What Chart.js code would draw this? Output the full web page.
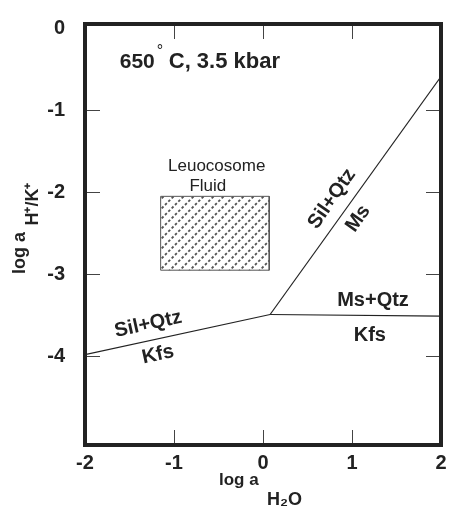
<!DOCTYPE html>
<html>
<head>
<meta charset="utf-8">
<script src="https://cdn.jsdelivr.net/npm/chart.js@4/dist/chart.umd.min.js"></script>
<style>
html,body{margin:0;padding:0;background:#fff;}
#wrap{width:449px;height:509px;}
</style>
</head>
<body>
<div id="wrap"><canvas id="c" width="449" height="509"></canvas></div>
<script>
// ---- data ----
const xTicks = [-2, -1, 0, 1, 2];
const yTicks = [0, -1, -2, -3, -4];
// Sil+Qtz / Kfs boundary
const kfsSilX = [-2, 0.08];
const kfsSilY = [-3.98, -3.49];
// Sil+Qtz / Ms boundary
const msSilX = [0.08, 2];
const msSilY = [-3.49, -0.59];
// Ms+Qtz / Kfs boundary
const kfsMsX = [0.08, 2];
const kfsMsY = [-3.49, -3.51];
// Leucosome fluid field (box)
const fluidX = [-1.15, 0.07, 0.07, -1.15, -1.15];
const fluidY = [-2.05, -2.05, -2.95, -2.95, -2.05];
// field labels [text, x, y, rotation(deg)]
const fieldLabels = [
  ['Sil+Qtz', -1.29, -3.61, -12.4],
  ['Kfs', -1.18, -3.98, -12.4],
  ['Sil+Qtz', 0.775, -2.08, -55],
  ['Ms', 1.07, -2.32, -55],
  ['Ms+Qtz', 1.236, -3.32, 0],
  ['Kfs', 1.20, -3.74, 0]
];

function pts(xs, ys){ return xs.map((x,i)=>({x:x, y:ys[i]})); }

function makeHatch(){
  const c = document.createElement('canvas');
  c.width = 10; c.height = 10;
  const g = c.getContext('2d');
  g.strokeStyle = '#555';
  g.lineWidth = 1.8;
  const per = Math.SQRT2*10/3;
  g.setLineDash([per*0.55, per*0.45]);
  [[15,-5],[5,-15],[25,5]].forEach(([a,b])=>{
    g.beginPath(); g.moveTo(-5,a); g.lineTo(15,b); g.stroke();
  });
  return g.createPattern(c,'repeat');
}

const FONT = "'Liberation Sans', Arial, sans-serif";
const INK = '#222';

const decor = {
  id:'decor',
  afterDraw(chart){
    const ctx = chart.ctx, a = chart.chartArea;
    const xs = chart.scales.x, ys = chart.scales.y;
    ctx.save();
    ctx.setLineDash([]);
    // inner ticks
    ctx.fillStyle = '#444';
    xTicks.forEach(v=>{
      if (v===xTicks[0] || v===xTicks[xTicks.length-1]) return;
      const px = Math.round(xs.getPixelForValue(v));
      ctx.fillRect(px, a.bottom-15, 1, 15);
      ctx.fillRect(px, a.top, 1, 15);
    });
    yTicks.forEach(v=>{
      if (v===0) return;
      const py = Math.round(ys.getPixelForValue(v));
      ctx.fillRect(a.left, py, 15, 1);
      ctx.fillRect(a.right-15, py, 15, 1);
    });
    // frame
    ctx.strokeStyle = INK; ctx.lineWidth = 4;
    ctx.strokeRect(a.left, a.top, a.right-a.left, a.bottom-a.top);

    ctx.fillStyle = INK;
    // condition text
    ctx.textAlign = 'left'; ctx.textBaseline = 'alphabetic';
    const tx = xs.getPixelForValue(-1.61), ty = ys.getPixelForValue(-0.49);
    ctx.font = 'bold 21px ' + FONT;
    ctx.fillText('650', tx, ty);
    const w650 = ctx.measureText('650').width;
    ctx.font = '16px ' + FONT;
    ctx.fillText('°', tx + w650 + 2, ty - 12);
    ctx.font = 'bold 22px ' + FONT;
    ctx.fillText('C, 3.5 kbar', tx + w650 + 14, ty);

    // fluid label
    ctx.font = '17px ' + FONT; ctx.textAlign = 'center'; ctx.textBaseline = 'middle';
    ctx.fillText('Leuocosome', xs.getPixelForValue(-0.52), ys.getPixelForValue(-1.69));
    ctx.fillText('Fluid', xs.getPixelForValue(-0.62), ys.getPixelForValue(-1.93));

    // field labels
    ctx.font = 'bold 20px ' + FONT;
    fieldLabels.forEach(([t,x,y,r])=>{
      ctx.save();
      ctx.translate(xs.getPixelForValue(x), ys.getPixelForValue(y));
      ctx.rotate(r*Math.PI/180);
      ctx.fillText(t, 0, 0);
      ctx.restore();
    });

    // x axis title
    ctx.textAlign = 'left'; ctx.textBaseline = 'alphabetic';
    ctx.font = 'bold 17px ' + FONT;
    ctx.fillText('log a', 219, 485);
    ctx.font = 'bold 18px ' + FONT;
    ctx.fillText('H\u2082O', 267, 505);

    // y axis title
    ctx.save();
    ctx.translate(25, 253); ctx.rotate(-Math.PI/2);
    ctx.textAlign = 'center';
    ctx.font = 'bold 18px ' + FONT;
    ctx.fillText('log a', 0, 0);
    ctx.restore();
    ctx.save();
    ctx.translate(38, 204); ctx.rotate(-Math.PI/2);
    ctx.textAlign = 'center';
    ctx.font = 'bold 18px ' + FONT;
    ctx.fillText('H\u207A/K\u207A', 0, 0);
    ctx.restore();
    ctx.restore();
  }
};

const lineDs = (d) => ({data:d, showLine:true, borderColor:INK, borderWidth:1.2, pointRadius:0, fill:false, tension:0});

new Chart(document.getElementById('c'), {
  type:'scatter',
  data:{ datasets:[
    {data:pts(fluidX, fluidY), showLine:true, borderColor:'#555', borderWidth:1, pointRadius:0, fill:'shape', backgroundColor:makeHatch(), tension:0},
    lineDs(pts(kfsSilX, kfsSilY)),
    lineDs(pts(msSilX, msSilY)),
    lineDs(pts(kfsMsX, kfsMsY))
  ]},
  options:{
    responsive:false, animation:false, devicePixelRatio:1,
    layout:{padding:{left:0, top:17, right:8, bottom:0}},
    plugins:{legend:{display:false}, tooltip:{enabled:false}},
    scales:{
      x:{type:'linear', min:-2, max:2,
        afterBuildTicks:s=>{ s.ticks = xTicks.map(v=>({value:v})); },
        afterFit:s=>{ s.height = 64; },
        ticks:{font:{family:FONT, size:20, weight:'bold'}, color:INK, padding:-2, maxRotation:0, autoSkip:false},
        grid:{display:false}, border:{display:false}},
      y:{type:'linear', min:-5.08, max:0.05,
        afterBuildTicks:s=>{ s.ticks = yTicks.map(v=>({value:v})); },
        afterFit:s=>{ s.width = 85; },
        ticks:{font:{family:FONT, size:20, weight:'bold'}, color:INK, padding:12, autoSkip:false},
        grid:{display:false}, border:{display:false}}
    }
  },
  plugins:[decor]
});
</script>
</body>
</html>
